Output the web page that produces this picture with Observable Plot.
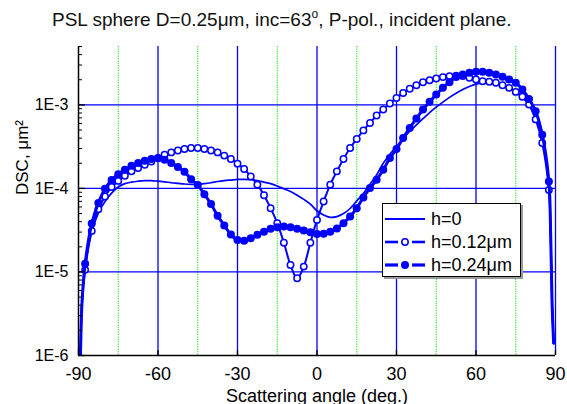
<!DOCTYPE html>
<html>
<head>
<meta charset="utf-8">
<script src="https://cdn.jsdelivr.net/npm/d3@7"></script>
<script src="https://cdn.jsdelivr.net/npm/@observablehq/plot@0.6"></script>
<style>
  body { margin: 0; background: #fff; font-family: "Liberation Sans", Arial, Helvetica, sans-serif; }
  #chart { position: relative; width: 567px; height: 404px; }
  #title { position: absolute; left: 52px; top: 9px; font-size: 19px; color: #111; white-space: nowrap; }
  #title sup { font-size: 12px; vertical-align: 8px; line-height: 0; }
  #legend { position: absolute; left: 382px; top: 203px; width: 137px; height: 72px;
            border: 1px solid #000; background: #fff; box-shadow: 2px 2px 0 #9a9a9a; }
  #legend .row { position: absolute; left: 0; height: 20px; display: flex; align-items: center; }
  #legend svg { display: block; }
  #legend span { font-size: 18px; margin-left: 4px; color: #000; }
</style>
</head>
<body>
<div id="chart">
  <div id="title">PSL sphere D=0.25μm, inc=63<sup>o</sup>, P-pol., incident plane.</div>
</div>
<script>
// Scattering angles (deg.) of the computed points shown with markers
const angles = [-87.5, -85, -82.5, -80, -77.5, -75, -72.5, -70, -67.5, -65,
  -62.5, -60, -57.5, -55, -52.5, -50, -47.5, -45, -42.5, -40,
  -37.5, -35, -32.5, -30, -27.5, -25, -22.5, -20, -17.5, -15,
  -12.5, -10, -7.5, -5, -2.5, 0, 2.5, 5, 7.5, 10,
  12.5, 15, 17.5, 20, 22.5, 25, 27.5, 30, 32.5, 35,
  37.5, 40, 42.5, 45, 47.5, 50, 52.5, 55, 57.5, 60,
  62.5, 65, 67.5, 70, 72.5, 75, 77.5, 80, 82.5, 85, 87.5];

// DSC (um^2), sphere on the surface, h = 0
const dscH0 = [1.15e-5, 3.04e-5, 5.06e-5, 6.97e-5, 8.8e-5, 1.04e-4, 1.14e-4, 1.19e-4, 1.22e-4, 1.24e-4,
  1.24e-4, 1.22e-4, 1.20e-4, 1.17e-4, 1.15e-4, 1.13e-4, 1.12e-4, 1.12e-4, 1.14e-4, 1.17e-4,
  1.21e-4, 1.24e-4, 1.26e-4, 1.28e-4, 1.28e-4, 1.27e-4, 1.24e-4, 1.19e-4, 1.14e-4, 1.07e-4,
  9.9e-5, 9.2e-5, 8.3e-5, 7.4e-5, 6.5e-5, 5.4e-5, 4.8e-5, 4.5e-5, 4.6e-5, 5.0e-5,
  5.75e-5, 7.1e-5, 8.7e-5, 1.12e-4, 1.45e-4, 2.0e-4, 2.57e-4, 3.16e-4, 3.94e-4, 4.84e-4,
  5.75e-4, 6.84e-4, 8.1e-4, 9.4e-4, 1.08e-3, 1.23e-3, 1.38e-3, 1.53e-3, 1.66e-3, 1.77e-3,
  1.85e-3, 1.89e-3, 1.86e-3, 1.78e-3, 1.62e-3, 1.45e-3, 1.23e-3, 1.0e-3, 6.9e-4, 3.7e-4, 1.12e-4];

// DSC (um^2), h = 0.12 um
const dscH012 = [1.06e-5, 3.1e-5, 5.65e-5, 8.0e-5, 1.04e-4, 1.23e-4, 1.42e-4, 1.60e-4, 1.75e-4, 1.92e-4,
  2.10e-4, 2.31e-4, 2.54e-4, 2.70e-4, 2.85e-4, 2.96e-4, 3.05e-4, 3.05e-4, 2.96e-4, 2.85e-4,
  2.70e-4, 2.47e-4, 2.25e-4, 1.98e-4, 1.71e-4, 1.39e-4, 1.11e-4, 8.3e-5, 5.8e-5, 3.84e-5,
  2.24e-5, 1.21e-5, 8.4e-6, 1.16e-5, 2.24e-5, 4.2e-5, 6.97e-5, 1.11e-4, 1.60e-4, 2.25e-4,
  3.05e-4, 3.91e-4, 4.95e-4, 6.08e-4, 7.45e-4, 8.8e-4, 1.04e-3, 1.21e-3, 1.39e-3, 1.56e-3,
  1.72e-3, 1.87e-3, 1.97e-3, 2.07e-3, 2.15e-3, 2.21e-3, 2.24e-3, 2.21e-3, 2.11e-3, 2.01e-3,
  1.92e-3, 1.89e-3, 1.84e-3, 1.72e-3, 1.60e-3, 1.43e-3, 1.25e-3, 1.01e-3, 6.7e-4, 3.5e-4, 9.6e-5];

// DSC (um^2), h = 0.24 um
const dscH024 = [1.25e-5, 3.8e-5, 6.7e-5, 9.9e-5, 1.26e-4, 1.48e-4, 1.67e-4, 1.87e-4, 2.01e-4, 2.15e-4,
  2.25e-4, 2.29e-4, 2.21e-4, 2.01e-4, 1.80e-4, 1.58e-4, 1.29e-4, 1.10e-4, 8.5e-5, 6.5e-5,
  4.7e-5, 3.6e-5, 2.8e-5, 2.42e-5, 2.37e-5, 2.54e-5, 2.78e-5, 3.04e-5, 3.28e-5, 3.44e-5,
  3.49e-5, 3.44e-5, 3.28e-5, 3.13e-5, 2.99e-5, 2.84e-5, 2.86e-5, 3.02e-5, 3.31e-5, 3.84e-5,
  4.61e-5, 5.81e-5, 7.8e-5, 1.01e-4, 1.27e-4, 1.67e-4, 2.31e-4, 2.96e-4, 4.02e-4, 5.3e-4,
  6.85e-4, 8.8e-4, 1.09e-3, 1.33e-3, 1.60e-3, 1.87e-3, 2.15e-3, 2.31e-3, 2.42e-3, 2.49e-3,
  2.49e-3, 2.42e-3, 2.31e-3, 2.17e-3, 2.01e-3, 1.84e-3, 1.53e-3, 1.18e-3, 8.4e-4, 4.4e-4, 1.21e-4];

// Grazing-angle ends shared by all curves (values fall off toward +/-90 deg.)
const edgeAngles = [-89.6, -89.3, -88.7, 88.2, 88.7, 89.3];
const edgeValues = [7e-7, 1.0e-6, 4.2e-6, 2.6e-5, 4.3e-6, 1.4e-6];

// Axes
const xTicks = [-90, -60, -30, 0, 30, 60, 90];
const xGridMajor = [-60, -30, 0, 30, 60, 90];
const xGridMinor = [-75, -45, -15, 15, 45, 75];
const yTicks = [1e-6, 1e-5, 1e-4, 1e-3];
const yGrid = [1e-5, 1e-4, 1e-3];
const yMinor = [];
for (const base of [1e-6, 1e-5, 1e-4, 1e-3]) {
  for (let m = 2; m <= 9; m++) {
    const v = m * base;
    if (v <= 5e-3) yMinor.push(v);
  }
}

const series = [
  {name: "h=0", values: dscH0},
  {name: "h=0.12μm", values: dscH012},
  {name: "h=0.24μm", values: dscH024}
];

function pointsOf(values) {
  return angles.map((a, i) => ({angle: a, dsc: values[i]}));
}
function curveOf(values) {
  const edges = edgeAngles.map((a, i) => ({angle: a, dsc: edgeValues[i]}));
  return [...edges.filter(d => d.angle < 0), ...pointsOf(values), ...edges.filter(d => d.angle > 0)];
}

const blue = "#0000ff";
const curve = "catmull-rom";

const plot = Plot.plot({
  width: 567,
  height: 404,
  marginLeft: 78,
  marginRight: 12,
  marginTop: 46,
  marginBottom: 49,
  style: {fontFamily: "'Liberation Sans', Arial, Helvetica, sans-serif", fontSize: "17px", color: "#000", background: "transparent"},
  x: {domain: [-90, 90]},
  y: {type: "log", domain: [1e-6, 5e-3]},
  marks: [
    // grid
    Plot.ruleX(xGridMinor, {stroke: "#00e600", strokeWidth: 1, strokeDasharray: "1.2,1.2"}),
    Plot.ruleX(xGridMajor, {stroke: blue, strokeWidth: 1.3}),
    Plot.ruleY(yGrid, {stroke: blue, strokeWidth: 1.3}),

    // h = 0
    Plot.line(curveOf(dscH0), {x: "angle", y: "dsc", stroke: blue, strokeWidth: 1.7, curve, clip: true}),
    // h = 0.12 um
    Plot.line(curveOf(dscH012), {x: "angle", y: "dsc", stroke: blue, strokeWidth: 2, curve, clip: true}),
    Plot.dot(pointsOf(dscH012), {x: "angle", y: "dsc", r: 3.2, stroke: blue, strokeWidth: 1.5, fill: "#fff"}),
    // h = 0.24 um
    Plot.line(curveOf(dscH024), {x: "angle", y: "dsc", stroke: blue, strokeWidth: 3, curve, clip: true}),
    Plot.dot(pointsOf(dscH024), {x: "angle", y: "dsc", r: 4, fill: blue, stroke: "none"}),

    // axes
    Plot.ruleX([-90], {stroke: "#000", strokeWidth: 1.5}),
    Plot.ruleY([1e-6], {stroke: "#000", strokeWidth: 1.5}),
    Plot.axisX(xTicks, {tickSize: -5, tickFormat: () => "", label: null, stroke: "#000", strokeWidth: 1.3}),
    Plot.axisX(xTicks, {tickSize: 0, tickPadding: 12, tickFormat: d => String(d), label: null, fontSize: 18}),
    Plot.axisY(yMinor, {tickSize: -4, tickFormat: () => "", label: null, stroke: "#000", strokeWidth: 1}),
    Plot.axisY(yTicks, {tickSize: -7, tickFormat: () => "", label: null, stroke: "#000", strokeWidth: 1.3}),
    Plot.axisY(yTicks, {tickSize: 0, tickPadding: 10, tickFormat: d => "1E" + Math.round(Math.log10(d)), label: null, fontSize: 16}),
    Plot.text(["Scattering angle (deg.)"], {frameAnchor: "bottom", dy: 46, fontSize: 18, fill: "#000"}),
    Plot.text(["DSC, μm²"], {frameAnchor: "left", rotate: -90, dx: -56, dy: -6, fontSize: 17, fill: "#000"})
  ]
});
document.getElementById("chart").appendChild(plot);

// legend
const legend = document.createElement("div");
legend.id = "legend";
const rowCenters = [15, 38, 61];
series.forEach((s, i) => {
  const row = document.createElement("div");
  row.className = "row";
  row.style.top = (rowCenters[i] - 10) + "px";
  const sw = i === 0 ? 1.8 : (i === 1 ? 2.6 : 3.2);
  let glyph = "";
  if (i === 1) glyph = `<circle cx="22" cy="10" r="3.2" fill="#fff" stroke="${blue}" stroke-width="1.5"/>`;
  if (i === 2) glyph = `<circle cx="22" cy="10" r="4" fill="${blue}"/>`;
  const gap = i === 0 ? `<line x1="2" x2="42" y1="10" y2="10" stroke="${blue}" stroke-width="${sw}"/>`
    : `<line x1="2" x2="15" y1="10" y2="10" stroke="${blue}" stroke-width="${sw}"/><line x1="29" x2="42" y1="10" y2="10" stroke="${blue}" stroke-width="${sw}"/>`;
  row.innerHTML = `<svg width="44" height="20">${gap}${glyph}</svg><span>${s.name}</span>`;
  legend.appendChild(row);
});
document.getElementById("chart").appendChild(legend);
</script>
</body>
</html>
